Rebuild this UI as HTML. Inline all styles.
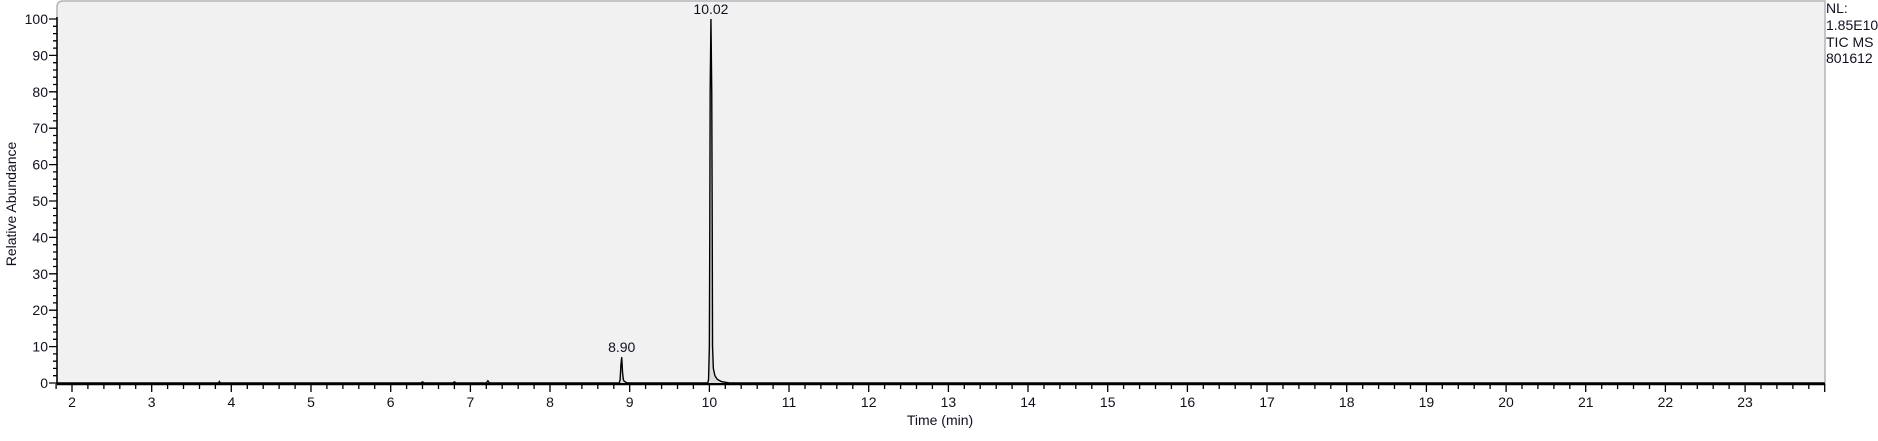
<!DOCTYPE html>
<html><head><meta charset="utf-8"><style>
body{margin:0;background:#fff;width:1878px;height:436px;overflow:hidden}
text{font-family:"Liberation Sans",Arial,sans-serif;fill:#101020}
</style></head><body>
<svg id="chart" width="1878" height="436" xmlns="http://www.w3.org/2000/svg">
<path d="M57,384 L57,7 Q57,1 63,1 L1825,1 L1825,384 Z" fill="#f1f1f1" stroke="#b4b4b4" stroke-width="1.5"/>
<g id="axes"></g>
<g id="trace"></g>
<text x="0" y="0" font-size="14" text-anchor="middle" transform="translate(16,204) rotate(-90)">Relative Abundance</text>
<text x="940" y="425" font-size="14" text-anchor="middle">Time (min)</text>
<g font-size="14">
<text x="1826" y="13">NL:</text>
<text x="1826" y="30">1.85E10</text>
<text x="1826" y="47">TIC  MS</text>
<text x="1826" y="63">801612</text>
</g>
</svg>
<script>
const times=[1.81,3.84,3.85,3.86,6.38,6.4,6.42,6.78,6.8,6.82,7.2,7.22,7.24,8.87,8.88,8.89,8.90,8.91,8.92,8.93,8.96,9.0,9.98,9.99,10.0,10.005,10.01,10.02,10.03,10.035,10.04,10.05,10.07,10.1,10.15,10.25,24.0];
const abundance=[0,0,0.4,0,0,0.3,0,0,0.3,0,0,0.6,0,0,1,5,7.1,3,1,0.5,0.1,0,0,1,10,40,80,100,80,50,10,4,2,1,0.4,0,0];
const peakLabels=["8.90","10.02"];
const peakTimes=[8.90,10.02];
const peakValues=[7.1,100];
const xTicks=[2,3,4,5,6,7,8,9,10,11,12,13,14,15,16,17,18,19,20,21,22,23];
const yTicks=[0,10,20,30,40,50,60,70,80,90,100];
const X=t=>72+(t-2)*79.67, Y=v=>383-v*3.64;
const NS="http://www.w3.org/2000/svg";
const ax=document.getElementById('axes'), tr=document.getElementById('trace');
function mk(tag,attrs,parent){const e=document.createElementNS(NS,tag);for(const k in attrs)e.setAttribute(k,attrs[k]);parent.appendChild(e);return e;}
let d='';
for(let t=1.8;t<=24.0001;t+=0.2){const x=X(t);const major=Math.abs(t-Math.round(t))<0.01;d+=`M${x.toFixed(1)},384V${major?392:389}`;}
for(let v=0;v<=100.001;v+=2){const y=Y(v);const major=Math.abs(v%10)<0.01;d+=`M57,${y.toFixed(1)}H${major?49:53}`;}
const tk=mk('path',{d:d,stroke:'#000','stroke-width':1.3,fill:'none'},ax);


const xl=mk('line',{x1:57,x2:1825,y1:384,y2:384,stroke:'#000','stroke-width':2.5},ax);


const yl=mk('line',{x1:57,x2:57,y1:17,y2:384,stroke:'#000','stroke-width':1.5},ax);


xTicks.forEach(t=>{const e=mk('text',{x:X(t),y:407,'font-size':14,'text-anchor':'middle'},ax);e.textContent=t;

});
yTicks.forEach(v=>{const e=mk('text',{x:48,y:Y(v)+5,'font-size':14,'text-anchor':'end'},ax);e.textContent=v;

});
let p='';times.forEach((t,i)=>{p+=(i?'L':'M')+X(t).toFixed(2)+','+Y(abundance[i]).toFixed(2);});
const fill=mk('path',{d:p+'Z',fill:'#dcdcdc',stroke:'none'},tr);


const line=mk('path',{d:p,fill:'none',stroke:'#000','stroke-width':1.4},tr);


peakLabels.forEach((s,i)=>{const e=mk('text',{x:X(peakTimes[i]),y:Y(peakValues[i])-5,'font-size':14,'text-anchor':'middle'},tr);e.textContent=s;

});
</script>
</body></html>
